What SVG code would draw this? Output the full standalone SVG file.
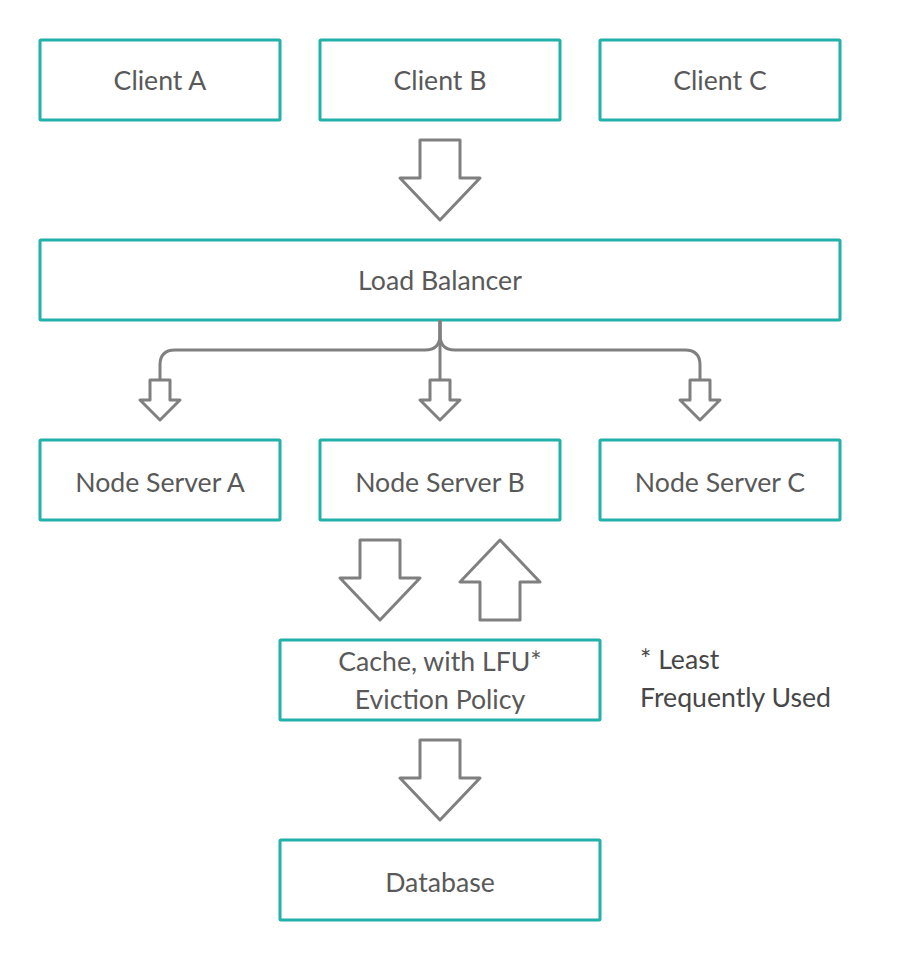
<svg xmlns="http://www.w3.org/2000/svg" width="900" height="960" viewBox="0 0 900 960">
<style>
.box{fill:#fff;stroke:#20b2aa;stroke-width:3}
.lbl{font-family:Lato,"Liberation Sans",sans-serif;font-size:26.67px;fill:#595959;text-anchor:middle}
.note{font-family:Lato,"Liberation Sans",sans-serif;font-size:26.67px;fill:#474747}
.arr{fill:#fff;stroke:#808080;stroke-width:3;stroke-linejoin:round}
.line{fill:none;stroke:#808080;stroke-width:3}
</style>
<rect width="900" height="960" fill="#fff"/>
<g id="client-a"><rect class="box" x="40" y="40" width="240" height="80" rx="1"/><text class="lbl" x="160" y="90">Client A</text></g>
<g id="client-b"><rect class="box" x="320" y="40" width="240" height="80" rx="1"/><text class="lbl" x="440" y="90">Client B</text></g>
<g id="client-c"><rect class="box" x="600" y="40" width="240" height="80" rx="1"/><text class="lbl" x="720" y="90">Client C</text></g>
<g id="load-balancer"><rect class="box" x="40" y="240" width="800" height="80" rx="1"/><text class="lbl" x="440" y="290">Load Balancer</text></g>
<g id="node-a"><rect class="box" x="40" y="440" width="240" height="80" rx="1"/><text class="lbl" x="160" y="492">Node Server A</text></g>
<g id="node-b"><rect class="box" x="320" y="440" width="240" height="80" rx="1"/><text class="lbl" x="440" y="492">Node Server B</text></g>
<g id="node-c"><rect class="box" x="600" y="440" width="240" height="80" rx="1"/><text class="lbl" x="720" y="492">Node Server C</text></g>
<g id="cache"><rect class="box" x="280" y="640" width="320" height="80" rx="1"/><text class="lbl" x="440" y="671">Cache, with LFU*</text><text class="lbl" x="440" y="709">Eviction Policy</text></g>
<g id="database"><rect class="box" x="280" y="840" width="320" height="80" rx="1"/><text class="lbl" x="440" y="892">Database</text></g>
<g id="footnote"><text class="note" x="640" y="669">* Least</text><text class="note" x="640" y="707">Frequently Used</text></g>
<g id="connectors">
<path class="arr" d="M420,140 H460 V178 H480 L440,220 L400,178 H420 Z"/>
<path class="line" d="M440,320 V335 Q440,350 425,350 H175 Q160,350 160,365 V380"/>
<path class="line" d="M440,320 V335 Q440,350 455,350 H685 Q700,350 700,365 V380"/>
<path class="line" d="M440,320 V380"/>
<path class="arr" d="M150,380 H170 V400 H180 L160,420 L140,400 H150 Z"/>
<path class="arr" d="M430,380 H450 V400 H460 L440,420 L420,400 H430 Z"/>
<path class="arr" d="M690,380 H710 V400 H720 L700,420 L680,400 H690 Z"/>
<path class="arr" d="M360,540 H400 V578 H420 L380,620 L340,578 H360 Z"/>
<path class="arr" d="M480,620 H520 V582 H540 L500,540 L460,582 H480 Z"/>
<path class="arr" d="M420,740 H460 V778 H480 L440,820 L400,778 H420 Z"/>
</g>
</svg>
